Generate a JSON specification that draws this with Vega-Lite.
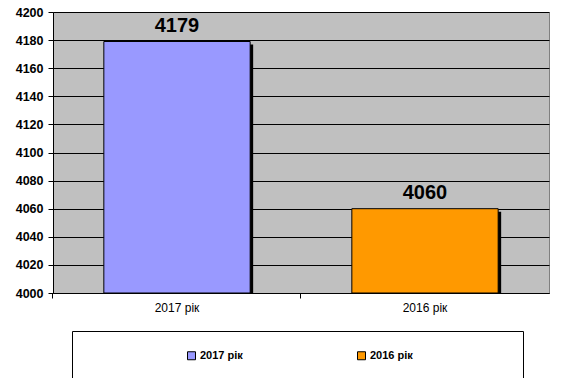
{
  "$schema": "https://vega.github.io/schema/vega-lite/v6.json",
  "width": 496,
  "height": 281,
  "autosize": {"type": "none"},
  "padding": {"left": 53, "top": 12, "right": 16, "bottom": 85},
  "background": "white",
  "config": {
    "font": "Liberation Sans",
    "view": {"fill": "#C0C0C0", "stroke": "#808080", "strokeWidth": 1}
  },
  "data": {
    "values": [
      {"year": "2017 рік", "value": 4179},
      {"year": "2016 рік", "value": 4060}
    ]
  },
  "encoding": {
    "x": {
      "field": "year",
      "type": "nominal",
      "sort": null,
      "scale": {"paddingInner": 0.41, "paddingOuter": 0.205},
      "axis": {
        "title": null,
        "labelAngle": 0,
        "labelFont": "Liberation Sans",
        "labelFontSize": 12,
        "labelColor": "black",
        "labelPadding": 4,
        "domainColor": "black",
        "tickColor": "black",
        "tickSize": 5,
        "bandPosition": -0.3475,
        "grid": false
      }
    },
    "y": {
      "field": "value",
      "type": "quantitative",
      "scale": {"domain": [4000, 4200], "zero": false, "nice": false},
      "axis": {
        "title": null,
        "format": "d",
        "values": [4000, 4020, 4040, 4060, 4080, 4100, 4120, 4140, 4160, 4180, 4200],
        "labelFont": "Liberation Sans",
        "labelFontSize": 12.5,
        "labelFontWeight": "bold",
        "labelColor": "black",
        "labelPadding": 5,
        "domainColor": "black",
        "tickColor": "black",
        "tickSize": 5,
        "grid": true,
        "gridColor": "black",
        "gridOpacity": 1,
        "gridWidth": 1
      }
    }
  },
  "layer": [
    {
      "mark": {"type": "bar", "color": "black", "xOffset": 3, "yOffset": 3, "clip": true},
      "encoding": {"y2": {"datum": 4000}}
    },
    {
      "mark": {"type": "bar", "stroke": "black", "strokeWidth": 1, "opacity": 1},
      "encoding": {
        "y2": {"datum": 4000},
        "color": {
          "field": "year",
          "type": "nominal",
          "sort": null,
          "scale": {"domain": ["2017 рік", "2016 рік"], "range": ["#9999FF", "#FF9900"]},
          "legend": {
            "orient": "none",
            "legendX": 19,
            "legendY": 319,
            "direction": "horizontal",
            "columns": 2,
            "padding": 19,
            "strokeColor": "black",
            "fillColor": "white",
            "symbolType": "square",
            "symbolSize": 64,
            "symbolStrokeColor": "black",
            "symbolStrokeWidth": 1,
            "symbolOpacity": 1,
            "labelFont": "Liberation Sans",
            "labelFontWeight": "bold",
            "labelFontSize": 11,
            "labelColor": "black",
            "labelOffset": 3,
            "symbolOffset": 95,
            "columnPadding": 18,
            "title": " ",
            "titleOrient": "right",
            "titlePadding": 91
          }
        }
      }
    },
    {
      "mark": {"type": "text", "font": "Liberation Sans", "fontSize": 20, "fontWeight": "bold", "baseline": "alphabetic", "dy": -10, "color": "black"},
      "encoding": {"text": {"field": "value", "type": "quantitative"}}
    }
  ]
}
